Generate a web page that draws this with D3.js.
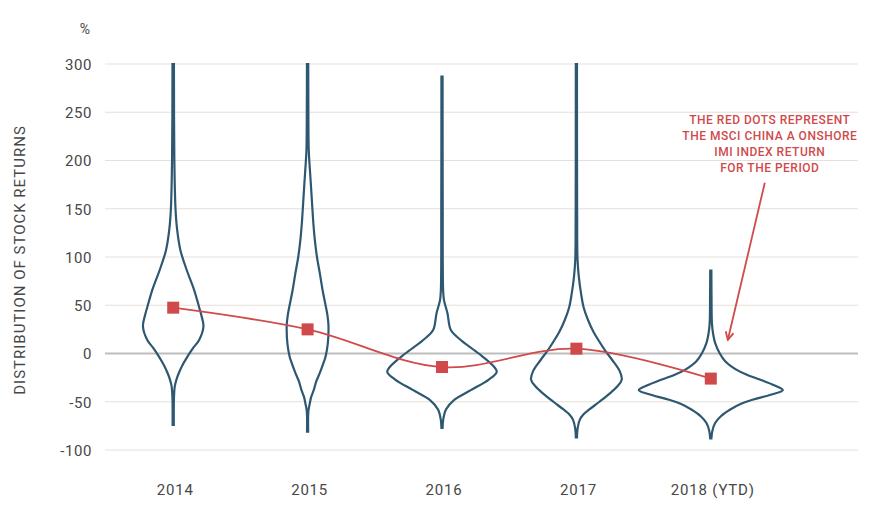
<!DOCTYPE html>
<html>
<head>
<meta charset="utf-8">
<script src="https://cdn.jsdelivr.net/npm/d3@7"></script>
<style>
  body { margin: 0; background: #fff; }
  text { font-family: Roboto, "Open Sans", sans-serif; }
</style>
</head>
<body>
<svg class="chart_svg"></svg>
<script>
// categories and values
const years = ["2014", "2015", "2016", "2017", "2018 (YTD)"];
const yTicks = [-100, -50, 0, 50, 100, 150, 200, 250, 300];
const indexReturns = [47.5, 25, -14, 5, -26];

// violin profiles: [return %, relative density]
const dens2014 = [[-74,.008],[-45,.011],[-34,.022],[-27,.045],[-20,.08],[-12,.13],[-3,.2],[6,.28],[14,.36],[28,.42],[40,.39],[48,.36],[66,.29],[86,.19],[107,.1],[128,.055],[150,.032],[200,.016],[300,.01]];
const dens2015 = [[-81,.008],[-60,.011],[-52,.03],[-45,.05],[-38,.085],[-29,.12],[-20,.17],[-10,.22],[-3,.25],[10,.28],[29,.29],[40,.275],[48,.255],[65,.21],[83,.17],[100,.13],[118,.1],[135,.08],[152,.065],[170,.05],[187,.035],[211,.016],[250,.011],[300,.009]];
const dens2016 = [[-77,.008],[-69,.016],[-58,.055],[-48,.17],[-38,.4],[-27,.65],[-19,.76],[-12,.7],[0,.51],[14,.26],[24,.125],[42,.075],[55,.028],[65,.016],[150,.01],[287,.008]];
const dens2017 = [[-87,.008],[-78,.016],[-69,.045],[-63,.1],[-58,.18],[-50,.32],[-41,.47],[-34,.57],[-27,.63],[-18,.6],[-7,.5],[3,.4],[11,.33],[22,.24],[35,.16],[48,.1],[62,.065],[80,.033],[97,.016],[150,.01],[300,.008]];
const dens2018 = [[-88,.008],[-80,.022],[-72,.06],[-65,.14],[-58,.27],[-52,.42],[-48,.58],[-43,.82],[-38,1],[-33,.88],[-27,.68],[-22,.5],[-17,.36],[-8,.2],[0,.125],[11,.06],[20,.033],[31,.016],[60,.01],[86,.008]];
const violins = [dens2014, dens2015, dens2016, dens2017, dens2018];

const noteLines = ["THE RED DOTS REPRESENT", "THE MSCI CHINA A ONSHORE", "IMI INDEX RETURN", "FOR THE PERIOD"];

const width = 871, height = 514;
const blue = "#2e5871", red = "#d04a4c";

const svg = d3.select(".chart_svg")
    .attr("width", width)
    .attr("height", height);

const x = d3.scaleBand().domain(years).range([106, 778]).padding(0);
const cx = d => x(d) + x.bandwidth() / 2;
const y = d3.scaleLinear().domain([-100, 300]).range([450, 64]);
const w = d3.scaleLinear().domain([0, 1]).range([0, 72]);

// grid
svg.selectAll(".grid")
    .data(yTicks)
    .join("line")
    .attr("class", "grid")
    .attr("x1", 105).attr("x2", 858)
    .attr("y1", d => y(d)).attr("y2", d => y(d))
    .attr("stroke", d => d === 0 ? "#bdbdbd" : "#e5e0db")
    .attr("stroke-width", d => d === 0 ? 2 : 1.2);

// y axis labels
const yAxis = svg.append("g")
    .attr("transform", "translate(92,0)")
    .call(d3.axisLeft(y).tickValues(yTicks).tickSize(0).tickPadding(0).tickFormat(d => d));
yAxis.select(".domain").remove();
yAxis.selectAll("text")
    .attr("font-family", "Roboto")
    .attr("font-size", 15)
    .attr("letter-spacing", 0.6)
    .attr("fill", "#474747")
    .attr("dy", "0.35em");

svg.append("text")
    .attr("x", 85).attr("y", 34)
    .attr("text-anchor", "middle")
    .attr("font-size", 14)
    .attr("fill", "#474747")
    .text("%");

svg.append("text")
    .attr("transform", "translate(25,260) rotate(-90)")
    .attr("text-anchor", "middle")
    .attr("font-size", 15)
    .attr("letter-spacing", 1)
    .attr("fill", "#474747")
    .text("DISTRIBUTION OF STOCK RETURNS");

// x axis labels
const xAxis = svg.append("g")
    .attr("transform", "translate(2,490)")
    .call(d3.axisBottom(x).tickSize(0).tickPadding(0));
xAxis.select(".domain").remove();
xAxis.selectAll("text")
    .attr("font-family", "Roboto")
    .attr("font-size", 15)
    .attr("letter-spacing", 0.8)
    .attr("fill", "#474747")
    .attr("dy", "0.35em");

// violins
svg.selectAll(".violin")
    .data(violins)
    .join("path")
    .attr("class", "violin")
    .attr("d", (d, i) => d3.area()
        .y(p => y(p[0]))
        .x0(p => cx(years[i]) - w(p[1]))
        .x1(p => cx(years[i]) + w(p[1]))
        .curve(d3.curveCatmullRom.alpha(0.5))(d))
    .attr("fill", "none")
    .attr("stroke", blue)
    .attr("stroke-width", 2.2);

// index return line and markers
const pts = years.map((yr, i) => [cx(yr), y(indexReturns[i])]);
svg.append("path")
    .attr("d", d3.line().curve(d3.curveCatmullRom.alpha(0.5))(pts))
    .attr("fill", "none")
    .attr("stroke", red)
    .attr("stroke-width", 1.8);

svg.selectAll(".marker")
    .data(pts)
    .join("rect")
    .attr("class", "marker")
    .attr("x", d => d[0] - 6).attr("y", d => d[1] - 6)
    .attr("width", 12).attr("height", 12)
    .attr("fill", red);

// annotation
const noteX = cx(years[4]) + 59;
svg.append("g")
    .selectAll("text")
    .data(noteLines)
    .join("text")
    .attr("x", noteX)
    .attr("y", (d, i) => 124 + i * 16)
    .attr("text-anchor", "middle")
    .attr("font-family", "Roboto")
    .attr("font-weight", 500)
    .attr("font-size", 12)
    .attr("letter-spacing", 0.5)
    .attr("fill", red)
    .text(d => d);

svg.append("defs").append("marker")
    .attr("id", "arrow")
    .attr("viewBox", "0 0 10 10")
    .attr("refX", 9).attr("refY", 5)
    .attr("markerWidth", 10).attr("markerHeight", 10)
    .attr("markerUnits", "userSpaceOnUse")
    .attr("orient", "auto")
    .append("path")
    .attr("d", "M1,1 L9,5 L1,9")
    .attr("fill", "none")
    .attr("stroke", red)
    .attr("stroke-width", 1.8);

svg.append("line")
    .attr("x1", cx(years[4]) + 54).attr("y1", y(177))
    .attr("x2", cx(years[4]) + 17).attr("y2", y(14))
    .attr("stroke", red)
    .attr("stroke-width", 1.8)
    .attr("marker-end", "url(#arrow)");
</script>
</body>
</html>
